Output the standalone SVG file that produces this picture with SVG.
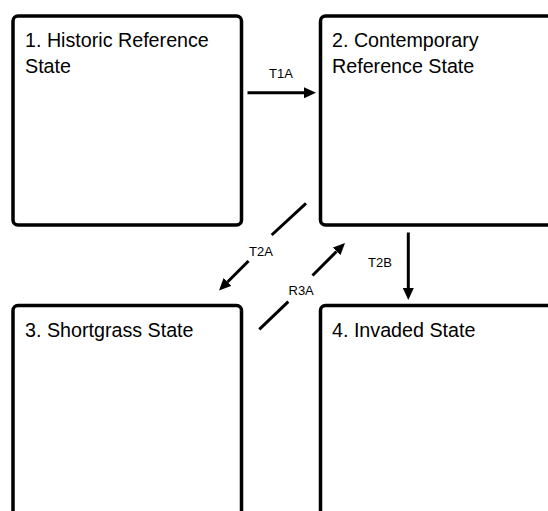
<svg xmlns="http://www.w3.org/2000/svg" width="548" height="511" viewBox="0 0 548 511">
  <style>
    .box { fill: #ffffff; stroke: #000000; stroke-width: 3.5; }
    .title { font-family: "Liberation Sans", Arial, sans-serif; font-size: 19.7px; fill: #000000; }
    .lbl { font-family: "Liberation Sans", Arial, sans-serif; font-size: 13px; fill: #000000; }
    .conn { stroke: #000000; stroke-width: 3; fill: none; }
  </style>
  <defs>
    <marker id="ah" markerUnits="userSpaceOnUse" markerWidth="12" markerHeight="12" refX="0" refY="6" orient="auto" viewBox="0 0 12 12">
      <path d="M0,0.5 L12,6 L0,11.5 z" fill="#000000"/>
    </marker>
  </defs>
  <rect width="548" height="511" fill="#ffffff"/>

  <g id="state1">
    <rect class="box" x="13" y="16" width="228.5" height="209" rx="5"/>
    <text class="title" x="25" y="46.5">1. Historic Reference</text>
    <text class="title" x="25" y="72.5">State</text>
  </g>
  <g id="state2">
    <rect class="box" x="320.5" y="16" width="250" height="209" rx="5"/>
    <text class="title" x="332" y="46.5">2. Contemporary</text>
    <text class="title" x="332" y="72.5">Reference State</text>
  </g>
  <g id="state3">
    <rect class="box" x="13" y="305.5" width="228.5" height="230" rx="5"/>
    <text class="title" x="25" y="337">3. Shortgrass State</text>
  </g>
  <g id="state4">
    <rect class="box" x="320.5" y="305.5" width="250" height="230" rx="5"/>
    <text class="title" x="332" y="337">4. Invaded State</text>
  </g>

  <g id="connectors">
    <line class="conn" x1="247.5" y1="92.7" x2="304" y2="92.7" marker-end="url(#ah)"/>
    <text class="lbl" x="269" y="78">T1A</text>

    <line class="conn" x1="408.3" y1="232.5" x2="408.3" y2="288" marker-end="url(#ah)"/>
    <text class="lbl" x="368" y="267">T2B</text>

    <line class="conn" x1="306" y1="203.3" x2="271.7" y2="235"/>
    <line class="conn" x1="248.5" y1="261" x2="227.5" y2="282" marker-end="url(#ah)"/>
    <text class="lbl" x="249" y="255.5">T2A</text>

    <line class="conn" x1="259.3" y1="329.3" x2="288.3" y2="301.7"/>
    <line class="conn" x1="312.5" y1="275.5" x2="336.5" y2="251.5" marker-end="url(#ah)"/>
    <text class="lbl" x="288.5" y="295">R3A</text>
  </g>
</svg>
